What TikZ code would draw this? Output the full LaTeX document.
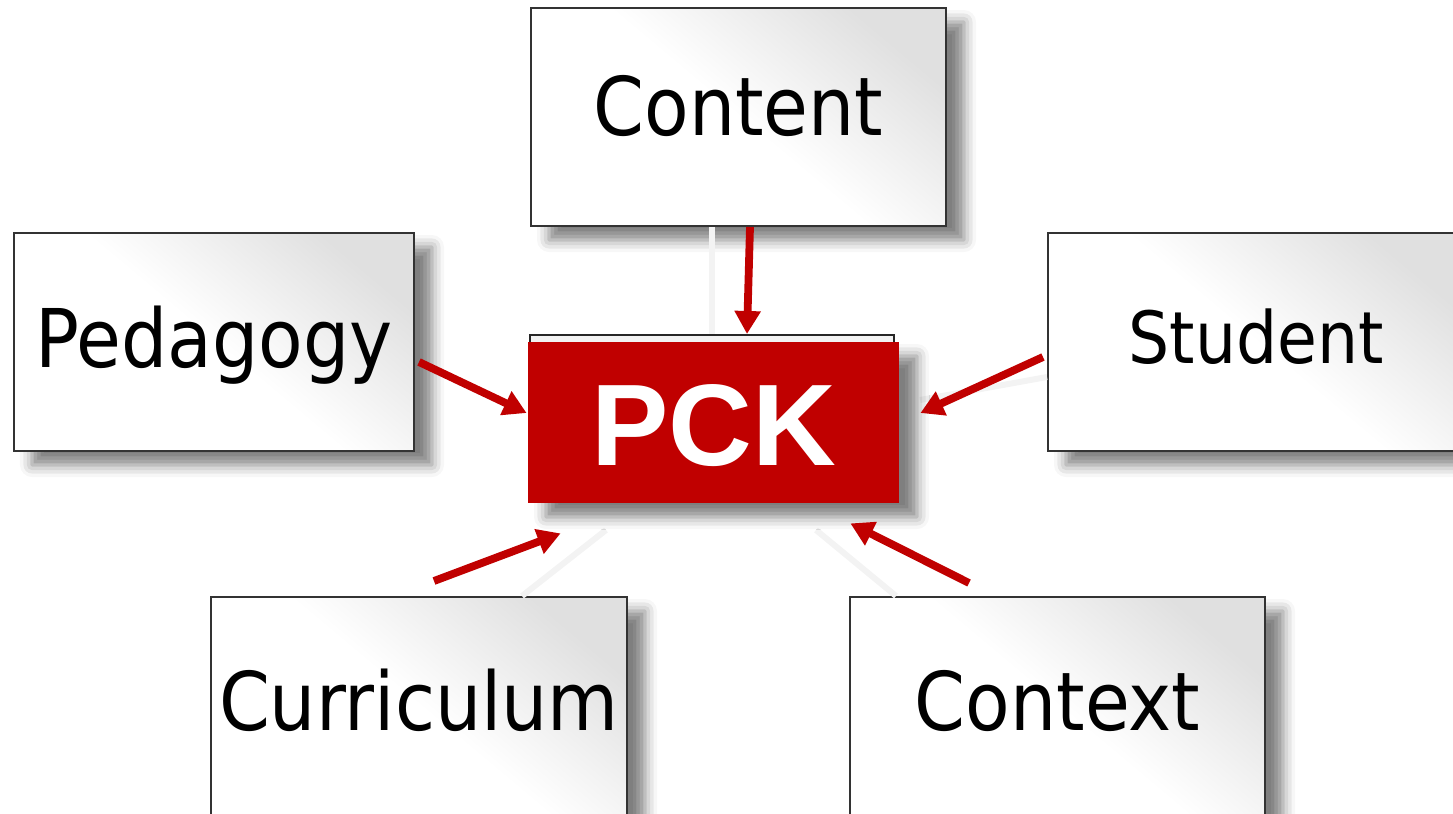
\documentclass[tikz,border=0pt]{standalone}
\usepackage{fontspec}
\usetikzlibrary{arrows.meta,shadows.blur}
\newfontfamily\boxfont[FakeStretch=0.9]{DejaVu Sans}
\newfontfamily\pckfont{Liberation Sans}
\definecolor{pckred}{HTML}{C00000}
\definecolor{faint}{HTML}{F3F3F3}
\tikzset{
  sbox/.style={draw=black!80, line width=1pt, inner sep=0pt, anchor=base,
    left color=white, right color=black!12, middle color=white, shading angle=140,
    blur shadow={shadow xshift=9pt, shadow yshift=-7pt, shadow blur radius=6pt, shadow opacity=50},
    font=\boxfont\fontsize{40.5}{48}\selectfont},
  arr/.style={draw=pckred, line width=3.9pt, -{Triangle[width=12.5pt,length=11.5pt]}},
  ghost/.style={draw=faint, line width=3pt},
}
\begin{document}
\begin{tikzpicture}[x=0.5pt,y=-0.5pt]
\useasboundingbox (0,0) rectangle (1453,814);
\clip (0,0) rectangle (1453,814);
% boxes
\node[sbox, minimum width=207.5pt, text height=63.5pt, text depth=45.5pt] (content) at (738.5,135) {Content};
\node[sbox, minimum width=200pt, text height=67pt, text depth=42pt] (ped) at (214,367) {Pedagogy};
\node[sbox, minimum width=208pt, text height=65pt, text depth=44pt, font=\boxfont\fontsize{36}{43}\selectfont] (stud) at (1256,363) {Student};
\node[sbox, minimum width=208pt, text height=66.5pt, text depth=42.5pt] (curr) at (419,730) {Curriculum};
\node[sbox, minimum width=207.5pt, text height=66.5pt, text depth=42.5pt] (cont) at (1057.5,730) {Context};
% faint connectors
\draw[ghost] ([xshift=-13.25pt]content.south) -- (712,334) coordinate (pcktop);
\draw[ghost] ([xshift=51.5pt]curr.north) -- (606,530) coordinate (g1);
\draw[ghost] ([xshift=-80.75pt]cont.north) -- (816,530) coordinate (g2);
\draw[ghost] ([yshift=-17.5pt]stud.west) -- (920,400) coordinate (g3);
% PCK
\node[draw=black!85, line width=1pt, fill=black!5, minimum width=182pt, minimum height=80pt, anchor=north, inner sep=0pt] (pckback) at (712,334) {};
\node[fill=pckred, inner sep=0pt, anchor=base, minimum width=185.5pt, text height=61.5pt, text depth=19pt,
  text=white, font=\pckfont\bfseries\fontsize{58}{64}\selectfont,
  blur shadow={shadow xshift=9pt, shadow yshift=-7pt, shadow blur radius=6pt, shadow opacity=50}] (pck) at (713.5,465) {PCK};
% arrows
\draw[arr] ([xshift=5.75pt]content.south) -- ([xshift=17.5pt]pckback.north);
\draw[arr] ([xshift=2pt,yshift=-10pt]ped.east) -- ([xshift=-0.5pt,yshift=4.75pt]pck.west);
\draw[arr] ([xshift=-2pt,yshift=-7.5pt]stud.west) -- ([xshift=10.5pt,yshift=4.75pt]pck.east);
\draw[arr] ([xshift=7.5pt,yshift=7.5pt]curr.north) -- ([xshift=16.5pt,yshift=-15pt]pck.south west);
\draw[arr] ([xshift=-44.25pt,yshift=6.5pt]cont.north) -- ([xshift=-24.5pt,yshift=-10pt]pck.south east);
\end{tikzpicture}
\end{document}
